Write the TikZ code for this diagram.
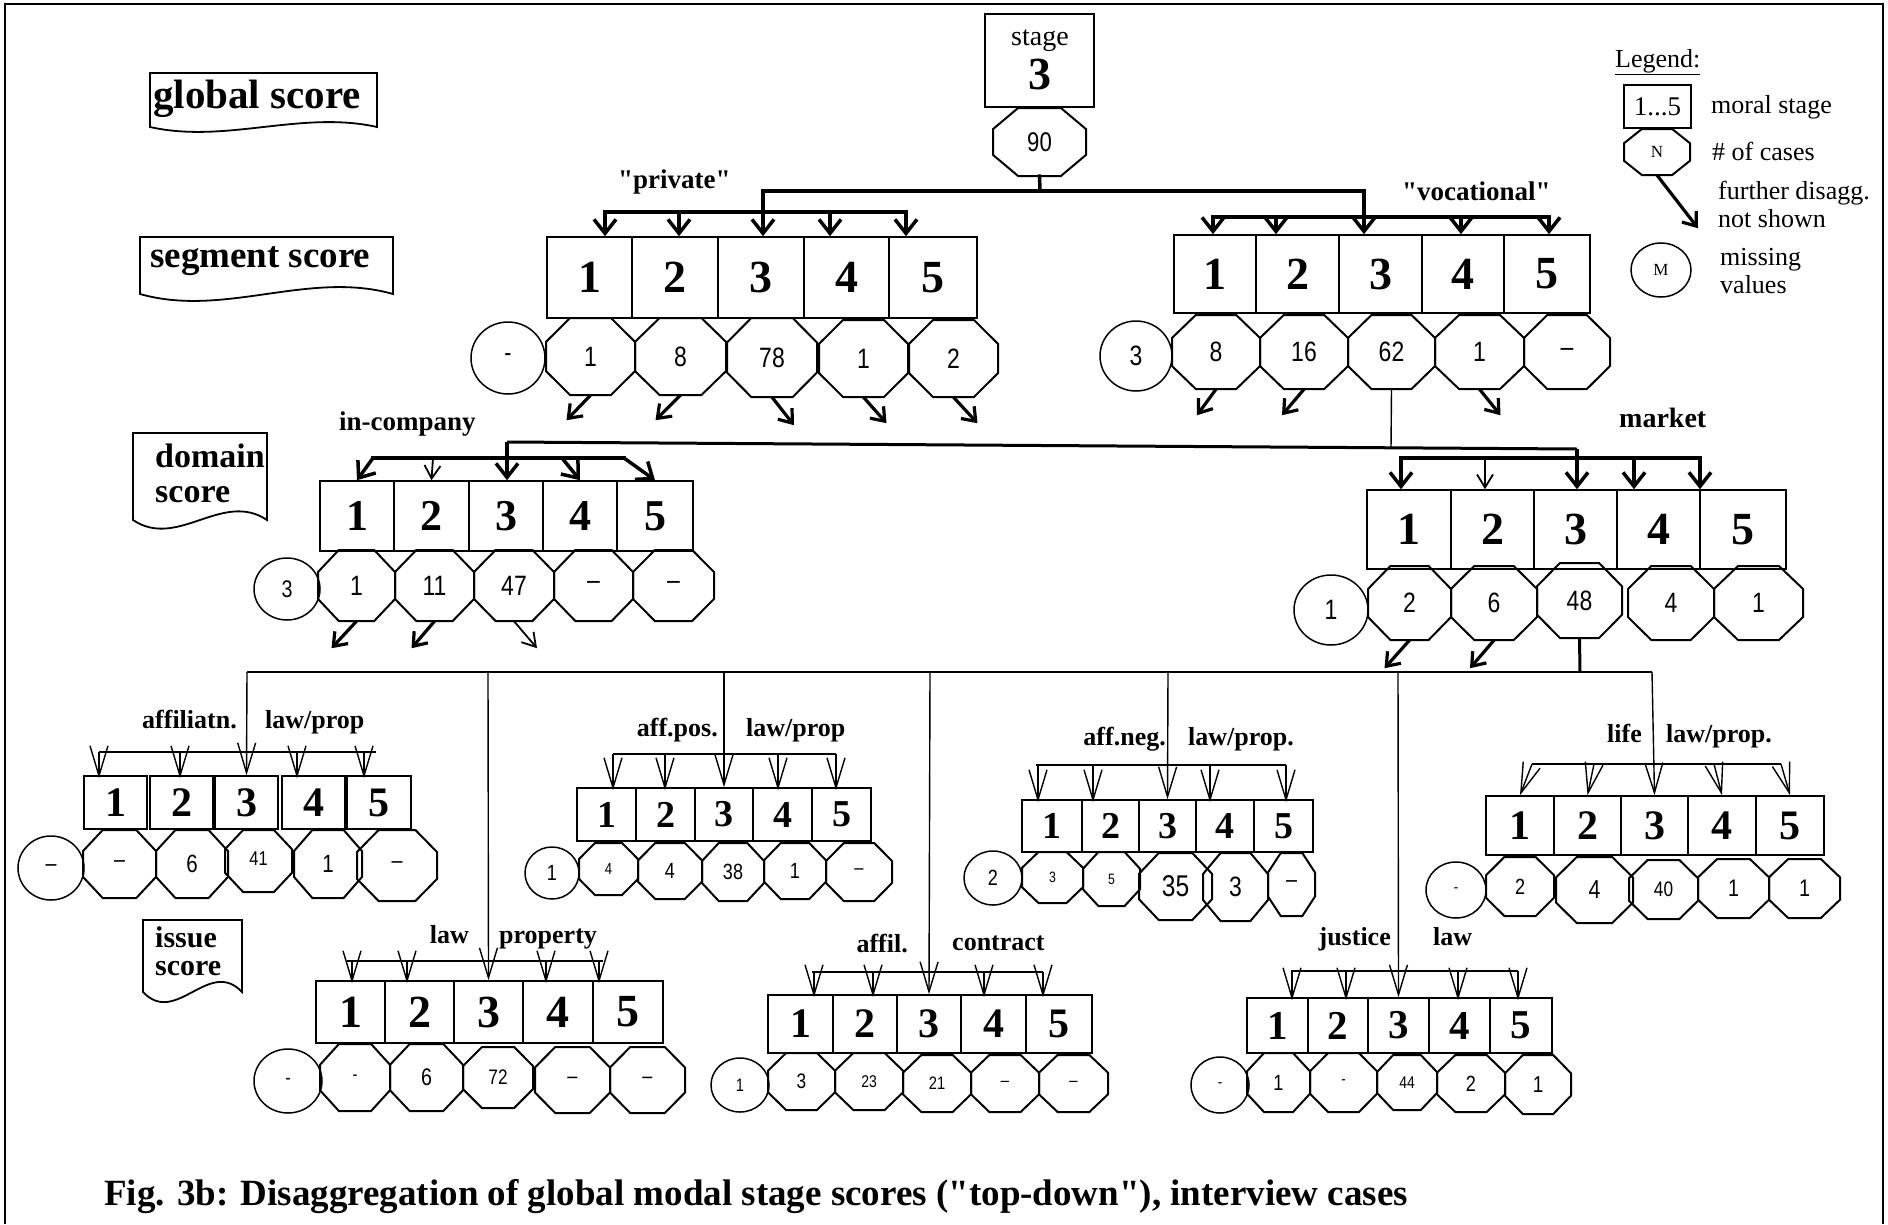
\documentclass[tikz,border=0pt]{standalone}
\usepackage{fontspec}
\setmainfont{Liberation Serif}[Ligatures=TeXOff]
\newfontfamily\nfont[FakeStretch=0.82]{Liberation Sans}
\usetikzlibrary{arrows.meta,shapes.geometric}
\newcommand\myfs[1]{\fontsize{#1}{#1}\selectfont}
% stage box: name,x1,x2,ytop,ybot,text,size
\newcommand\SB[7]{\pgfmathsetmacro\mysw{#3-#2}\pgfmathsetmacro\mysh{#5-#4}%
 \node[sbx, minimum width=\mysw pt, minimum height=\mysh pt, font={\bfseries\myfs{#7}}] (#1) at ({(#2+#3)/2},{(#4+#5)/2}) {#6};}
% octagon: name,x1,x2,ytop,ybot,text,size
\newcommand\OC[7]{\pgfmathsetmacro\ocx{0.27*(#3-#2)}\pgfmathsetmacro\ocy{0.31*(#5-#4)}%
 \draw[ocl] ({#2+\ocx},#4) -- ({#3-\ocx},#4) -- (#3,{#4+\ocy}) -- (#3,{#5-\ocy}) -- ({#3-\ocx},#5) -- ({#2+\ocx},#5) -- (#2,{#5-\ocy}) -- (#2,{#4+\ocy}) -- cycle;
 \pgfmathsetmacro\mysw{#3-#2}\pgfmathsetmacro\mysh{#5-#4}%
 \node[inner sep=0pt, minimum width=\mysw pt, minimum height=\mysh pt, font={\nfont\myfs{#7}}] (#1) at ({(#2+#3)/2},{(#4+#5)/2}) {#6};}
% circle: name,cx,cy,w,h,text,size
\newcommand\CI[7]{\node[cir, minimum width=#4pt, minimum height=#5pt, font={\nfont\myfs{#7}}] (#1) at (#2,#3) {#6};}
% document-shaped label: x1,x2,ytop,ybot,c
\newcommand\DOC[5]{\draw[line width=1.8pt] (#1,#4) -- (#1,#3) -- (#2,#3) -- (#2,#4) .. controls ({#1+2*(#2-#1)/3},{#4-#5}) and ({#1+(#2-#1)/3},{#4+#5}) .. (#1,#4) -- cycle;}
% fan arrows: y, xlist, target node
\newcommand\FAN[3]{\foreach \fx in {#2} {\coordinate (fc) at (\fx,#1); \draw[thna] (fc) -- ([yshift=-3pt]fc |- #3.north);}}
\begin{document}
\begin{tikzpicture}[x=1pt,y=-1pt,
 sbx/.style={draw, line width=1.6pt, inner sep=0pt},
 ocl/.style={line width=2pt, line join=miter},
 cir/.style={ellipse, draw, line width=1.5pt, inner sep=0pt},
 thk/.style={line width=3.5pt, line cap=rect},
 thka/.style={line width=3.5pt, -{Straight Barb[length=14pt,width=22pt]}},
 thkb/.style={line width=3.2pt, -{Straight Barb[length=12pt,width=18pt]}},
 midb/.style={line width=1.8pt, -{Straight Barb[length=13pt,width=16pt]}},
 thn/.style={line width=1.4pt},
 thna/.style={line width=1.4pt, -{Straight Barb[length=30pt,width=18pt]}},
 lab/.style={font=\bfseries\myfs{26}, inner sep=0pt},
 leg/.style={font=\myfs{26}, inner sep=0pt, anchor=base west}]
\useasboundingbox (0,0) rectangle (1888,1224);
\draw[line width=2.5pt] (5,1224) -- (5,4) -- (1883,4) -- (1883,1224);

% ---------- level labels
\DOC{150}{377}{73}{127}{17}
\node[font=\bfseries\myfs{41}, anchor=base west, inner sep=0pt] (tglob) at (153,108) {global score};
\DOC{140}{393}{237}{294}{24}
\node[font=\bfseries\myfs{37}, anchor=base west, inner sep=0pt] (tseg) at (150,267) {segment score};
\DOC{133}{267}{433}{520}{30}
\node[font=\bfseries\myfs{34}, anchor=base west, inner sep=0pt] (tdom1) at (155,467) {domain};
\node[font=\bfseries\myfs{34}, anchor=base west, inner sep=0pt] (tdom2) at (155,502) {score};
\DOC{143}{242}{920}{992}{35}
\node[font=\bfseries\myfs{30}, anchor=base west, inner sep=0pt] (tiss1) at (155,947) {issue};
\node[font=\bfseries\myfs{30}, anchor=base west, inner sep=0pt] (tiss2) at (155,975) {score};

% ---------- global
\node[sbx, minimum width=109pt, minimum height=93pt] (st) at (1039.5,60.5) {};
\node[font=\myfs{28}, anchor=base, inner sep=0pt] (stt) at (1040,45) {stage};
\node[font=\bfseries\myfs{46}, anchor=base, inner sep=0pt] (st3) at (1040,89) {3};
\OC{o90}{993}{1086}{108}{176}{90}{27}

% ---------- legend
\node[leg] (lg) at (1615,67) {\underline{Legend:}};
\node[sbx, minimum width=67pt, minimum height=43pt, font=\myfs{27}] (lb) at (1657.5,106.5) {1...5};
\node[leg] (lbt) at (1711,113) {moral stage};
\OC{ln}{1624}{1690}{129}{175}{\rmfamily N}{17}
\node[leg] (lnt) at (1712,160) {\# of cases};
\draw[thkb] (ln.south) -- ++(41,53);
\node[leg] (la1) at (1718,199) {further disagg.};
\node[leg] (la2) at (1718,227) {not shown};
\node[cir, minimum width=60pt, minimum height=54pt, font=\myfs{17}] (lm) at (1661,270) {M};
\node[leg] (lm1) at (1720,265) {missing};
\node[leg] (lm2) at (1720,293) {values};

% ---------- segment level
\node[lab, anchor=base west, font=\bfseries\myfs{27}] (lpriv) at (618,188) {"private"};
\node[lab, anchor=base west, font=\bfseries\myfs{27}] (lvoc) at (1402,200) {"vocational"};
\foreach \i/\a/\b in {1/547/632,2/632/718,3/718/804,4/804/889,5/889/977} {\SB{p\i}{\a}{\b}{237}{318}{\i}{46}}
\foreach \i/\a/\b in {1/1174/1256,2/1256/1339,3/1339/1422,4/1422/1504,5/1504/1590} {\SB{v\i}{\a}{\b}{235}{313}{\i}{46}}
\CI{pc0}{508}{358}{74}{72}{-}{26}
\OC{po1}{546}{635}{318}{395}{1}{28}
\OC{po2}{635}{726}{318}{395}{8}{28}
\OC{po3}{727}{817}{318}{397}{78}{28}
\OC{po4}{819}{908}{320}{397}{1}{28}
\OC{po5}{909}{998}{320}{397}{2}{28}
\CI{vc0}{1136}{356}{72}{70}{3}{28}
\OC{vo1}{1172}{1260}{315}{389}{8}{28}
\OC{vo2}{1260}{1348}{315}{389}{16}{28}
\OC{vo3}{1348}{1435}{315}{389}{62}{28}
\OC{vo4}{1435}{1524}{315}{389}{1}{28}
\OC{vo5}{1524}{1610}{315}{389}{–}{28}

\coordinate (j0) at (1040,191);
\coordinate (jl) at (763,191);
\coordinate (jr) at (1364,191);
\draw[thk] (o90.south) -- (j0);
\draw[thk] (jl) -- (jr);
\draw[thka] (jl) -- (jl |- p3.north);
\draw[thka] (jr) -- (jr |- v3.north);
\coordinate (pf1) at (605,212); \coordinate (pf2) at (679,212);
\coordinate (pf4) at (830,212); \coordinate (pf5) at (906,212);
\draw[thk] (pf1) -- (pf5);
\foreach \c/\b in {pf1/p1,pf2/p2,pf4/p4,pf5/p5} {\draw[thka] (\c) -- (\c |- \b.north);}
\coordinate (vf1) at (1213,217); \coordinate (vf2) at (1276,217);
\coordinate (vf4) at (1461,217); \coordinate (vf5) at (1549,217);
\draw[thk] (vf1) -- (vf5);
\foreach \c/\b in {vf1/v1,vf2/v2,vf4/v4,vf5/v5} {\draw[thka] (\c) -- (\c |- \b.north);}
\draw[thkb] (po1.south) -- ++(-24,25);
\draw[thkb] (po2.south) -- ++(-25,25);
\draw[thkb] (po3.south) -- ++(22,28);
\draw[thkb] (po4.south) -- ++(23,26);
\draw[thkb] (po5.south) -- ++(24,26);
\draw[thkb] (vo1.south) -- ++(-19,26);
\draw[thkb] (vo2.south) -- ++(-22,26);
\draw[thkb] (vo4.south) -- ++(21,26);

% ---------- domain level
\node[lab, anchor=base west, font=\bfseries\myfs{27}] (linc) at (339,430) {in-company};
\node[lab, anchor=base west, font=\bfseries\myfs{28}] (lmar) at (1619,427) {market};
\foreach \i/\a/\b in {1/320/394,2/394/469,3/469/543,4/543/617,5/617/693} {\SB{i\i}{\a}{\b}{481}{551}{\i}{44}}
\foreach \i/\a/\b in {1/1367/1451,2/1451/1534,3/1534/1617,4/1617/1700,5/1700/1786} {\SB{m\i}{\a}{\b}{490}{569}{\i}{46}}
\CI{ic0}{287}{589}{66}{62}{3}{24}
\OC{io1}{318}{395}{550}{621}{1}{28}
\OC{io2}{395}{474}{550}{621}{11}{28}
\OC{io3}{474}{554}{550}{621}{47}{28}
\OC{io4}{554}{633}{550}{621}{–}{28}
\OC{io5}{633}{714}{550}{621}{–}{28}
\CI{mc0}{1331}{610}{74}{70}{1}{28}
\OC{mo1}{1368}{1451}{566}{640}{2}{28}
\OC{mo2}{1451}{1537}{566}{640}{6}{28}
\OC{mo3}{1537}{1622}{563}{638}{48}{28}
\OC{mo4}{1628}{1714}{566}{640}{4}{28}
\OC{mo5}{1714}{1803}{566}{640}{1}{28}

\coordinate (jd) at (1391,448);
\coordinate (jdl) at (507,442);
\coordinate (jdr) at (1577,449);
\draw[thn] (vo3.south) -- (jd);
\draw[line width=3pt] (jdl) -- (jdr);
\draw[thka] (jdl) -- (jdl |- i3.north);
\draw[thka] (jdr) -- (jdr |- m3.north);
\coordinate (if1) at (373,458); \coordinate (if2) at (433,458);
\coordinate (if4) at (562,458); \coordinate (if5) at (624,458);
\draw[thk] (if1) -- (if5);
\draw[thka] (if1) -- (i1.north);
\draw[midb] (if2) -- (i2.north);
\draw[thka] (if4) -- (i4.north);
\draw[thka] (if5) -- (i5.north);
\coordinate (mf1) at (1401,458); \coordinate (mf2) at (1485,458);
\coordinate (mf4) at (1634,458); \coordinate (mf5) at (1700,458);
\draw[thk] (mf1) -- (mf5);
\draw[thka] (mf1) -- (mf1 |- m1.north);
\draw[midb] (mf2) -- (mf2 |- m2.north);
\draw[thka] (mf4) -- (mf4 |- m4.north);
\draw[thka] (mf5) -- (mf5 |- m5.north);
\draw[thkb] (io1.south) -- ++(-25,27);
\draw[thkb] (io2.south) -- ++(-23,27);
\draw[midb] (io3.south) -- ++(23,27);
\draw[thkb] (mo1.south) -- ++(-25,28);
\draw[thkb] (mo2.south) -- ++(-24,28);

% ---------- issue level boxes
\foreach \i/\a/\b in {1/84/147,2/150/213,3/215/278,4/282/345,5/347/411} {\SB{a\i}{\a}{\b}{776}{829}{\i}{42}}
\foreach \i/\a/\b in {1/577/636,2/636/695,3/695/753,4/753/812,5/812/871} {\SB{b\i}{\a}{\b}{788}{841}{\i}{38}}
\foreach \i/\a/\b in {1/1022/1082,2/1082/1139,3/1139/1196,4/1196/1254,5/1254/1313} {\SB{c\i}{\a}{\b}{800}{852}{\i}{38}}
\foreach \i/\a/\b in {1/1486/1554,2/1554/1621,3/1621/1688,4/1688/1756,5/1756/1824} {\SB{d\i}{\a}{\b}{796}{855}{\i}{42}}
\foreach \i/\a/\b in {1/316/385,2/385/454,3/454/523,4/523/593,5/593/663} {\SB{e\i}{\a}{\b}{981}{1043}{\i}{46}}
\foreach \i/\a/\b in {1/768/833,2/833/897,3/897/961,4/961/1026,5/1026/1092} {\SB{f\i}{\a}{\b}{995}{1053}{\i}{42}}
\foreach \i/\a/\b in {1/1247/1308,2/1308/1368,3/1368/1429,4/1429/1490,5/1490/1552} {\SB{g\i}{\a}{\b}{998}{1053}{\i}{41}}

% group A
\CI{ac0}{51}{868}{66}{64}{–}{24}
\OC{ao1}{83}{156}{830}{898}{–}{24}
\OC{ao2}{156}{228}{830}{898}{6}{25}
\OC{ao3}{225}{292}{830}{892}{\raisebox{4pt}{41}}{20}
\OC{ao4}{294}{362}{830}{898}{1}{25}
\OC{ao5}{357}{437}{830}{901}{–}{24}
% group B
\CI{bc0}{552}{873}{54}{52}{1}{22}
\OC{bo1}{579}{638}{843}{895}{4}{16}
\OC{bo2}{638}{702}{843}{899}{4}{22}
\OC{bo3}{702}{764}{843}{901}{38}{22}
\OC{bo4}{764}{826}{843}{899}{1}{22}
\OC{bo5}{826}{892}{843}{901}{–}{20}
% group C
\CI{cc0}{993}{878}{58}{54}{2}{22}
\OC{co1}{1022}{1083}{852}{903}{3}{15}
\OC{co2}{1083}{1140}{852}{906}{5}{15}
\OC{co3}{1139}{1212}{853}{920}{\raisebox{-6pt}{35}}{30}
\OC{co4}{1203}{1268}{853}{921}{3}{28}
\OC{co5}{1268}{1315}{853}{916}{–}{24}
% group D
\CI{dc0}{1456}{890}{60}{56}{-}{16}
\OC{do1}{1486}{1554}{857}{916}{2}{22}
\OC{do2}{1556}{1633}{857}{923}{4}{26}
\OC{do3}{1629}{1698}{860}{919}{40}{21}
\OC{do4}{1698}{1769}{859}{918}{1}{24}
\OC{do5}{1769}{1840}{859}{918}{1}{24}
% group E
\CI{ec0}{288}{1081}{68}{64}{-}{20}
\OC{eo1}{320}{390}{1044}{1111}{-}{18}
\OC{eo2}{390}{463}{1044}{1111}{6}{24}
\OC{eo3}{463}{533}{1047}{1108}{72}{21}
\OC{eo4}{535}{610}{1047}{1113}{–}{22}
\OC{eo5}{610}{685}{1047}{1113}{–}{22}
% group F
\CI{fc0}{740}{1085}{58}{54}{1}{18}
\OC{fo1}{768}{835}{1053}{1110}{3}{21}
\OC{fo2}{835}{903}{1053}{1110}{23}{17}
\OC{fo3}{903}{971}{1055}{1112}{21}{18}
\OC{fo4}{971}{1039}{1055}{1112}{–}{18}
\OC{fo5}{1039}{1108}{1055}{1112}{–}{18}
% group G
\CI{gc0}{1220}{1085}{58}{56}{-}{16}
\OC{go1}{1247}{1310}{1053}{1112}{1}{22}
\OC{go2}{1310}{1377}{1053}{1112}{-}{16}
\OC{go3}{1377}{1437}{1055}{1110}{44}{17}
\OC{go4}{1437}{1505}{1055}{1112}{2}{22}
\OC{go5}{1505}{1571}{1055}{1114}{1}{23}

% issue level connectors
\coordinate (k0) at (1580,672);
\draw[line width=3pt] (mo3.south) -- (k0);
\coordinate (kA) at (247,672); \coordinate (kE) at (488,672);
\coordinate (kB) at (724,672); \coordinate (kF) at (930,672);
\coordinate (kC) at (1168,672); \coordinate (kG) at (1398,672);
\coordinate (kD) at (1652,672);
\draw[thn] (kA) -- (kD);
\draw[thna] (kA) -- (a3.north);
\draw[thna] (kE) -- (e3.north);
\draw[thna] (kB) -- (b3.north);
\draw[thna] (kF) -- (f3.north);
\draw[thna] (kC) -- (c3.north);
\draw[thna] (kG) -- (g3.north);
\draw[thna] (kD) -- (d3.north);

% fans
\coordinate (afa) at (99,752); \coordinate (afb) at (376,752);
\draw[thn] (afa) -- (afb);
\FAN{752}{99,180,297,364}{a1}
\coordinate (bfa) at (613,754); \coordinate (bfb) at (836,754);
\draw[thn] (bfa) -- (bfb);
\FAN{754}{613,665,778,836}{b1}
\coordinate (cfa) at (1036,765); \coordinate (cfb) at (1286,765);
\draw[thn] (cfa) -- (cfb);
\FAN{765}{1038,1093,1210,1286}{c1}
\coordinate (df1) at (1532,764); \coordinate (df2) at (1594,764);
\coordinate (df4) at (1714,764); \coordinate (df5) at (1781,764);
\draw[thn] (df1) -- (df5);
\draw[thna] (df1) -- (d1.north);
\draw[thna] (df2) -- (d2.north);
\draw[thna] (df4) -- (d4.north);
\draw[thna] (df5) -- (d5.north);
\coordinate (efa) at (347,961); \coordinate (efb) at (603,961);
\draw[thn] (efa) -- (efb);
\FAN{961}{352,407,546,599}{e1}
\coordinate (ffa) at (812,972); \coordinate (ffb) at (1043,972);
\draw[thn] (ffa) -- (ffb);
\FAN{972}{814,873,984,1043}{f1}
\coordinate (gfa) at (1291,971); \coordinate (gfb) at (1518,971);
\draw[thn] (gfa) -- (gfb);
\FAN{971}{1292,1346,1458,1518}{g1}

% fan labels
\node[lab, anchor=base east] (lA1) at (237,728) {affiliatn.};
\node[lab, anchor=base west] (lA2) at (265,728) {law/prop};
\node[lab, anchor=base east] (lB1) at (718,736) {aff.pos.};
\node[lab, anchor=base west] (lB2) at (746,736) {law/prop};
\node[lab, anchor=base east] (lC1) at (1166,745) {aff.neg.};
\node[lab, anchor=base west] (lC2) at (1188,745) {law/prop.};
\node[lab, anchor=base east] (lD1) at (1642,742) {life};
\node[lab, anchor=base west] (lD2) at (1666,742) {law/prop.};
\node[lab, anchor=base east] (lE1) at (469,943) {law};
\node[lab, anchor=base west] (lE2) at (499,943) {property};
\node[lab, anchor=base east] (lF1) at (908,952) {affil.};
\node[lab, anchor=base west] (lF2) at (952,950) {contract};
\node[lab, anchor=base east] (lG1) at (1391,945) {justice};
\node[lab, anchor=base west] (lG2) at (1433,945) {law};

% caption
\node[font=\bfseries\myfs{37}, anchor=base west, inner sep=0pt] (cap) at (104,1205) {Fig. 3b: Disaggregation of global modal stage scores ("top-down"), interview cases};
\end{tikzpicture}
\end{document}
